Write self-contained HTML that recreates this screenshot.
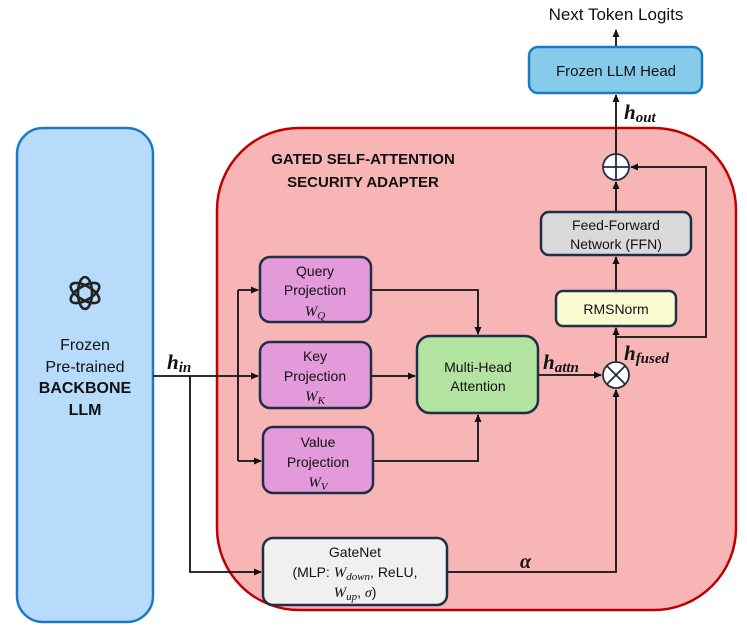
<!DOCTYPE html>
<html><head><style>body{margin:0;background:#fff}</style></head><body>
<svg width="747" height="628" viewBox="0 0 747 628" xmlns="http://www.w3.org/2000/svg" font-family="Liberation Sans, sans-serif">
<defs><marker id="a" markerWidth="8" markerHeight="8" refX="7" refY="4" orient="auto" markerUnits="userSpaceOnUse"><path d="M0,0.5 L8,4 L0,7.5 z" fill="#111"/></marker></defs>
<rect x="17" y="128" width="136" height="494" rx="26" fill="#b7dbfa" stroke="#1a7bc4" stroke-width="2.5"/>
<rect x="217" y="128" width="519" height="482" rx="82" fill="#f7b5b5" stroke="#c00000" stroke-width="2.5"/>
<g fill="none" stroke="#222" stroke-width="2.6"><ellipse cx="85" cy="293" rx="7" ry="16"/><ellipse cx="85" cy="293" rx="7" ry="16" transform="rotate(60 85 293)"/><ellipse cx="85" cy="293" rx="7" ry="16" transform="rotate(-60 85 293)"/></g>
<g font-size="16" text-anchor="middle" fill="#111"><text x="85" y="350">Frozen</text><text x="85" y="372">Pre-trained</text><text x="85" y="393" font-weight="bold">BACKBONE</text><text x="85" y="415" font-weight="bold">LLM</text></g>
<g font-size="15" font-weight="bold" text-anchor="middle" fill="#111"><text x="363" y="164">GATED SELF-ATTENTION</text><text x="363" y="187">SECURITY ADAPTER</text></g>
<g stroke="#111" stroke-width="1.8" fill="none">
<path d="M153 376 H258" marker-end="url(#a)"/>
<path d="M238 290 V461"/><path d="M238 290 H258" marker-end="url(#a)"/><path d="M238 461 H261" marker-end="url(#a)"/>
<path d="M190 376 V572 H261" marker-end="url(#a)"/>
<path d="M371 290 H478 V334" marker-end="url(#a)"/>
<path d="M371 376 H415" marker-end="url(#a)"/>
<path d="M373 461 H478 V415" marker-end="url(#a)"/>
<path d="M538 375 H601" marker-end="url(#a)"/>
<path d="M447 572 H616 V390" marker-end="url(#a)"/>
<path d="M616 362 V328" marker-end="url(#a)"/>
<path d="M616 337 H706 V167 H631" marker-end="url(#a)"/>
<path d="M616 291 V257" marker-end="url(#a)"/>
<path d="M616 212 V182" marker-end="url(#a)"/>
<path d="M616 154 V95" marker-end="url(#a)"/>
<path d="M616 47 V30" marker-end="url(#a)"/>
</g>
<g stroke="#1f2f45" stroke-width="2.5">
<rect x="260" y="257" width="111" height="65" rx="10" fill="#e29adb"/>
<rect x="260" y="342" width="111" height="66" rx="10" fill="#e29adb"/>
<rect x="263" y="427" width="110" height="66" rx="10" fill="#e29adb"/>
<rect x="417" y="336" width="121" height="77" rx="13" fill="#b2e3a0"/>
<rect x="263" y="538" width="184" height="67" rx="10" fill="#f0f0f0"/>
<rect x="541" y="212" width="150" height="43" rx="8" fill="#d9d9d9"/>
<rect x="556" y="291" width="120" height="35" rx="7" fill="#fafad0"/>
</g>
<rect x="529" y="47" width="173" height="46" rx="9" fill="#87cbeb" stroke="#1a7bc4" stroke-width="2.5"/>
<g stroke="#1f2f45" stroke-width="1.8" fill="#fff"><circle cx="616" cy="167" r="13"/><path d="M603 167 H629 M616 154 V180" fill="none"/><circle cx="616" cy="375" r="13"/><path d="M607 366 L625 384 M625 366 L607 384" fill="none"/></g>
<g font-size="14" text-anchor="middle" fill="#111">
<text x="315" y="276">Query</text><text x="315" y="295">Projection</text><text x="315" y="316" font-family="Liberation Serif,serif" font-style="italic" font-size="15">W<tspan font-size="11" dy="3">Q</tspan></text>
<text x="315" y="361">Key</text><text x="315" y="381">Projection</text><text x="315" y="401" font-family="Liberation Serif,serif" font-style="italic" font-size="15">W<tspan font-size="11" dy="3">K</tspan></text>
<text x="318" y="447">Value</text><text x="318" y="467">Projection</text><text x="318" y="487" font-family="Liberation Serif,serif" font-style="italic" font-size="15">W<tspan font-size="11" dy="3">V</tspan></text>
<text x="478" y="372">Multi-Head</text><text x="478" y="391">Attention</text>
<text x="355" y="557">GateNet</text><text x="355" y="577">(MLP: <tspan font-family="Liberation Serif,serif" font-style="italic" font-size="15">W<tspan font-size="11" dy="3">down</tspan></tspan><tspan dy="-3">, ReLU,</tspan></text><text x="355" y="597"><tspan font-family="Liberation Serif,serif" font-style="italic" font-size="15">W<tspan font-size="11" dy="3">up</tspan></tspan><tspan dy="-3">, </tspan><tspan font-family="Liberation Serif,serif" font-style="italic">σ</tspan>)</text>
<text x="616" y="230">Feed-Forward</text><text x="616" y="249">Network (FFN)</text>
<text x="616" y="314">RMSNorm</text>
<text x="616" y="76" font-size="15">Frozen LLM Head</text>
<text x="616" y="20" font-size="17">Next Token Logits</text>
</g>
<g font-family="Liberation Serif,serif" font-style="italic" font-weight="bold" fill="#111">
<text x="167" y="369" font-size="21">h<tspan font-size="15" dy="3">in</tspan></text>
<text x="543" y="369" font-size="21">h<tspan font-size="15" dy="3">attn</tspan></text>
<text x="624" y="360" font-size="21">h<tspan font-size="15" dy="3">fused</tspan></text>
<text x="624" y="119" font-size="21">h<tspan font-size="15" dy="3">out</tspan></text>
<text x="520" y="568" font-size="20">α</text>
</g>
</svg>
</body></html>
